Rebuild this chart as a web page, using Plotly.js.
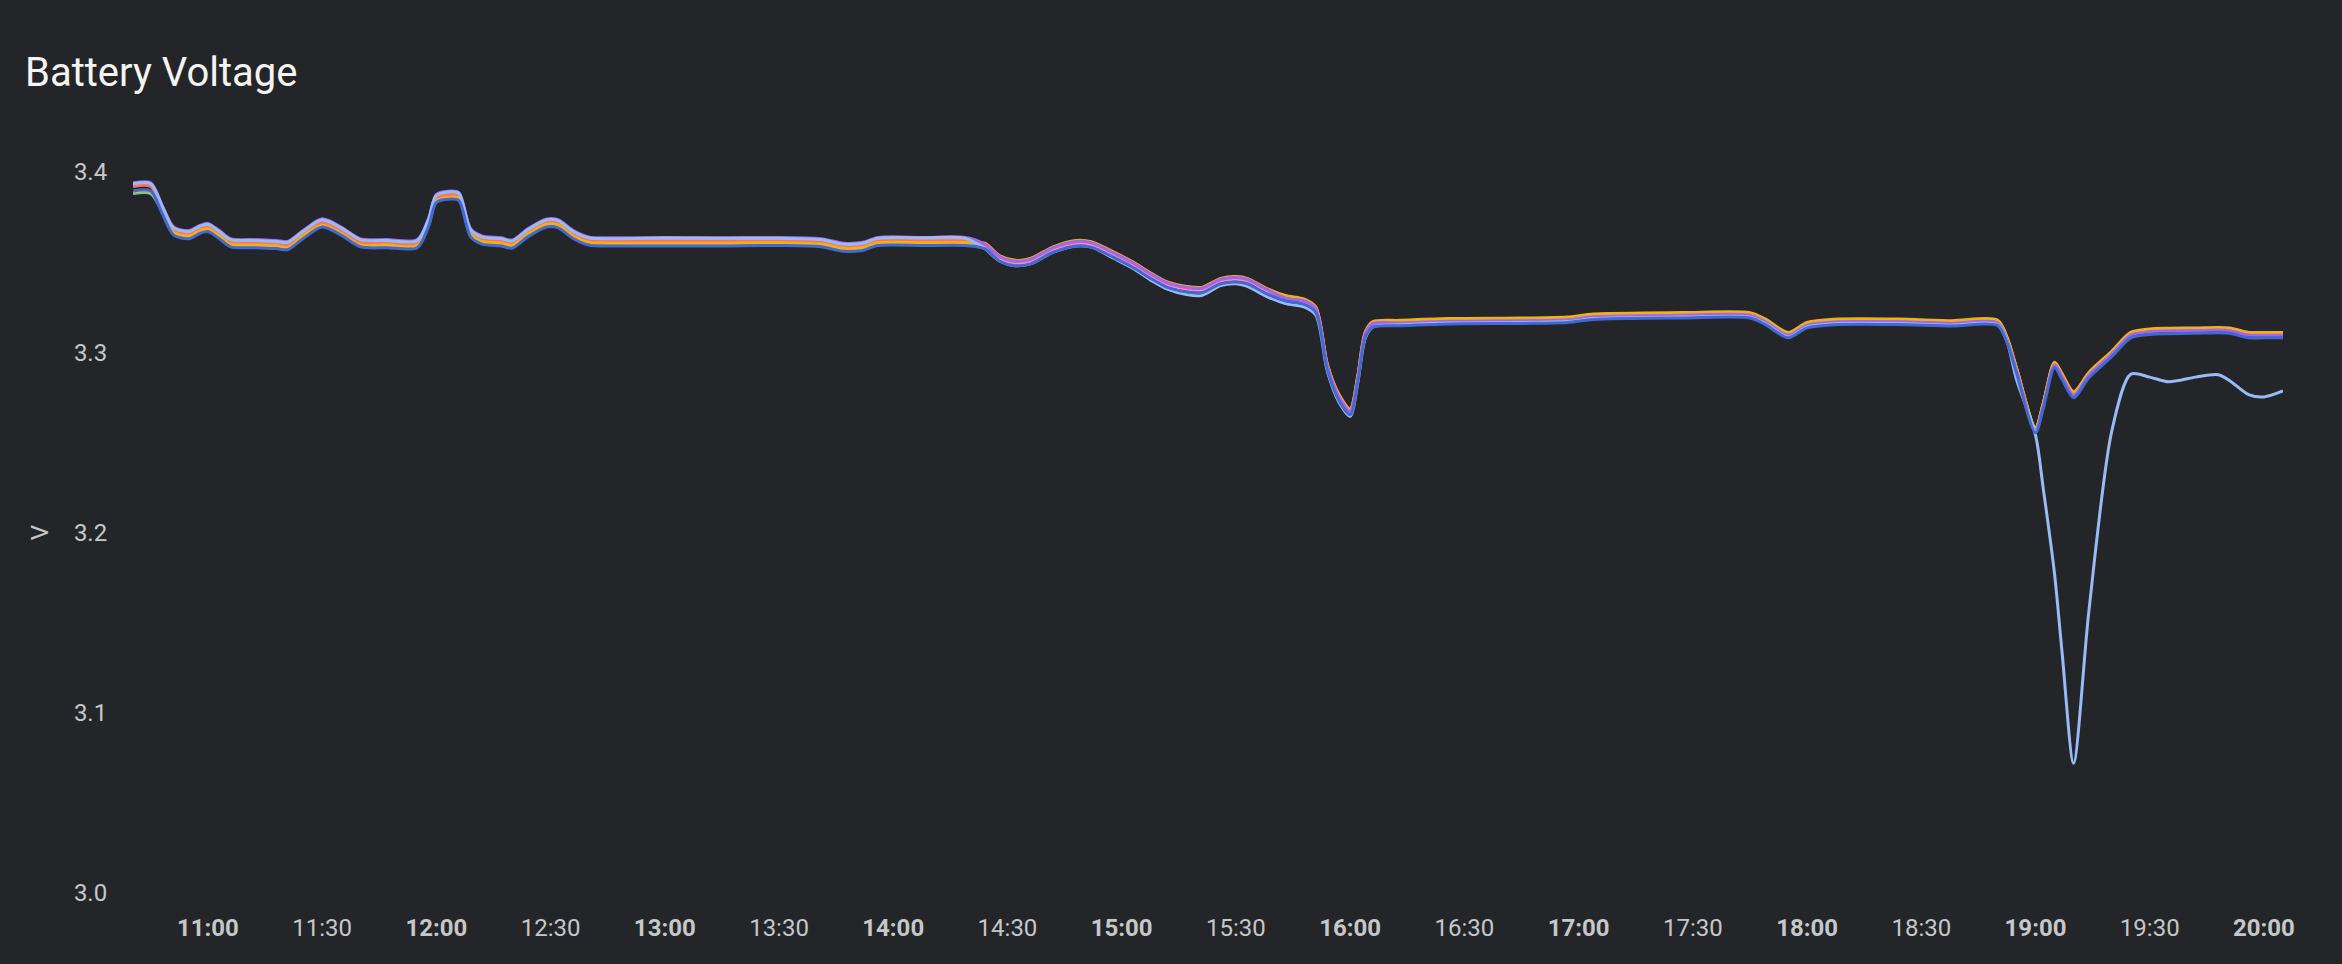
<!DOCTYPE html>
<html>
<head>
<meta charset="utf-8">
<script src="https://cdn.plot.ly/plotly-3.0.1.min.js"></script>
<style>
  html, body { margin: 0; padding: 0; background: #242528; }
  #chart { width: 2342px; height: 964px; }
</style>
</head>
<body>
<div id="chart"></div>
<script>
// Battery cell voltages, one sample list per cell
const day = '2024-05-01 ';

const times = [
  '10:40:20', '10:45', '10:48', '10:51', '10:55', '10:58', '11:00', '11:03', '11:06', '11:12',
  '11:18', '11:21', '11:25', '11:30', '11:35', '11:40', '11:47', '11:55', '11:58', '12:00',
  '12:04', '12:06', '12:09', '12:12', '12:17', '12:20', '12:24', '12:29', '12:32', '12:36',
  '12:40', '12:48', '13:00', '13:15', '13:30', '13:41', '13:47', '13:52', '13:56', '14:08',
  '14:19',
  '14:24', '14:28', '14:32', '14:36', '14:42', '14:48', '14:52', '14:58', '15:03', '15:08',
  '15:12', '15:17', '15:21', '15:26', '15:30', '15:33', '15:38', '15:43', '15:48', '15:51',
  '15:54', '15:57', '16:00', '16:02', '16:04', '16:06',
  '16:13', '16:26', '16:45', '16:57', '17:04', '17:27', '17:45', '17:49', '17:55', '18:00',
  '18:07', '18:24', '18:38', '18:50', '18:52:30', '18:55', '19:00', '19:02', '19:05', '19:07',
  '19:10', '19:14', '19:20', '19:25', '19:30', '19:35', '19:42', '19:48', '19:51', '19:56',
  '20:00', '20:05'
];

const cellTeal = [
  3.3880, 3.3880, 3.3780, 3.3660, 3.3640, 3.3670, 3.3680, 3.3640, 3.3595, 3.3590,
  3.3585, 3.3580, 3.3640, 3.3705, 3.3660, 3.3595, 3.3590, 3.3590, 3.3710, 3.3840,
  3.3860, 3.3850, 3.3650, 3.3610, 3.3600, 3.3588, 3.3650, 3.3705, 3.3700, 3.3640,
  3.3605, 3.3600, 3.3600, 3.3600, 3.3602, 3.3595, 3.3570, 3.3575, 3.3602, 3.3602,
  3.3602,
  3.3595, 3.3525, 3.3500, 3.3510, 3.3575, 3.3610, 3.3603, 3.3545, 3.3490, 3.3425,
  3.3380, 3.3355, 3.3350, 3.3400, 3.3410, 3.3400, 3.3345, 3.3305, 3.3285, 3.3240,
  3.2925, 3.2755, 3.2673, 3.2855, 3.3105, 3.3165,
  3.3172, 3.3182, 3.3185, 3.3190, 3.3207, 3.3215, 3.3215, 3.3180, 3.3105, 3.3160,
  3.3178, 3.3179, 3.3170, 3.3174, 3.3080, 3.2910, 3.2578, 3.2710, 3.2940, 3.2874,
  3.2772, 3.2883, 3.3000, 3.3105, 3.3124, 3.3128, 3.3130, 3.3133, 3.3130, 3.3105,
  3.3105, 3.3105
];

const cellPink = [
  3.3930, 3.3930, 3.3805, 3.3685, 3.3665, 3.3695, 3.3705, 3.3665, 3.3620, 3.3615,
  3.3610, 3.3605, 3.3665, 3.3730, 3.3685, 3.3620, 3.3615, 3.3615, 3.3735, 3.3865,
  3.3885, 3.3875, 3.3675, 3.3635, 3.3625, 3.3613, 3.3675, 3.3730, 3.3725, 3.3665,
  3.3630, 3.3625, 3.3625, 3.3625, 3.3627, 3.3620, 3.3595, 3.3600, 3.3627, 3.3627,
  3.3627,
  3.3590, 3.3520, 3.3495, 3.3505, 3.3570, 3.3605, 3.3598, 3.3540, 3.3485, 3.3420,
  3.3375, 3.3350, 3.3345, 3.3395, 3.3405, 3.3395, 3.3340, 3.3300, 3.3280, 3.3235,
  3.2920, 3.2750, 3.2668, 3.2850, 3.3100, 3.3155,
  3.3167, 3.3177, 3.3180, 3.3185, 3.3202, 3.3210, 3.3210, 3.3175, 3.3100, 3.3155,
  3.3173, 3.3174, 3.3165, 3.3169, 3.3075, 3.2905, 3.2573, 3.2705, 3.2935, 3.2869,
  3.2767, 3.2878, 3.2995, 3.3100, 3.3119, 3.3123, 3.3125, 3.3128, 3.3125, 3.3100,
  3.3100, 3.3100
];

const cellRed = [
  3.3920, 3.3920, 3.3795, 3.3675, 3.3655, 3.3685, 3.3695, 3.3655, 3.3610, 3.3605,
  3.3600, 3.3595, 3.3655, 3.3720, 3.3675, 3.3610, 3.3605, 3.3605, 3.3725, 3.3855,
  3.3875, 3.3865, 3.3665, 3.3625, 3.3615, 3.3603, 3.3665, 3.3720, 3.3715, 3.3655,
  3.3620, 3.3615, 3.3615, 3.3615, 3.3617, 3.3610, 3.3585, 3.3590, 3.3617, 3.3617,
  3.3617,
  3.3600, 3.3530, 3.3505, 3.3515, 3.3580, 3.3615, 3.3608, 3.3550, 3.3495, 3.3430,
  3.3385, 3.3360, 3.3355, 3.3405, 3.3415, 3.3405, 3.3350, 3.3310, 3.3290, 3.3245,
  3.2930, 3.2770, 3.2688, 3.2870, 3.3110, 3.3150,
  3.3172, 3.3182, 3.3185, 3.3190, 3.3210, 3.3215, 3.3215, 3.3180, 3.3090, 3.3160,
  3.3178, 3.3179, 3.3165, 3.3174, 3.3080, 3.2910, 3.2578, 3.2710, 3.2940, 3.2880,
  3.2782, 3.2883, 3.3000, 3.3105, 3.3124, 3.3128, 3.3130, 3.3133, 3.3130, 3.3105,
  3.3105, 3.3105
];

const cellYellow = [
  3.3890, 3.3890, 3.3785, 3.3665, 3.3645, 3.3675, 3.3685, 3.3645, 3.3600, 3.3595,
  3.3590, 3.3580, 3.3645, 3.3705, 3.3660, 3.3595, 3.3595, 3.3590, 3.3710, 3.3840,
  3.3860, 3.3855, 3.3655, 3.3615, 3.3605, 3.3593, 3.3655, 3.3710, 3.3705, 3.3645,
  3.3610, 3.3605, 3.3605, 3.3605, 3.3607, 3.3600, 3.3575, 3.3580, 3.3607, 3.3607,
  3.3607,
  3.3605, 3.3535, 3.3510, 3.3520, 3.3585, 3.3620, 3.3613, 3.3555, 3.3500, 3.3435,
  3.3390, 3.3365, 3.3360, 3.3410, 3.3420, 3.3410, 3.3355, 3.3315, 3.3295, 3.3250,
  3.2935, 3.2765, 3.2683, 3.2865, 3.3115, 3.3170,
  3.3177, 3.3187, 3.3190, 3.3195, 3.3212, 3.3220, 3.3220, 3.3185, 3.3110, 3.3165,
  3.3183, 3.3184, 3.3175, 3.3179, 3.3085, 3.2915, 3.2583, 3.2715, 3.2945, 3.2879,
  3.2777, 3.2888, 3.3005, 3.3110, 3.3129, 3.3133, 3.3135, 3.3138, 3.3135, 3.3110,
  3.3110, 3.3110
];

const cellPurple = [
  3.3940, 3.3940, 3.3815, 3.3695, 3.3675, 3.3705, 3.3715, 3.3675, 3.3630, 3.3625,
  3.3620, 3.3615, 3.3675, 3.3740, 3.3695, 3.3630, 3.3625, 3.3625, 3.3745, 3.3875,
  3.3895, 3.3885, 3.3685, 3.3645, 3.3635, 3.3623, 3.3685, 3.3740, 3.3735, 3.3675,
  3.3640, 3.3635, 3.3635, 3.3635, 3.3637, 3.3630, 3.3605, 3.3610, 3.3637, 3.3637,
  3.3637,
  3.3600, 3.3530, 3.3505, 3.3515, 3.3580, 3.3615, 3.3608, 3.3550, 3.3495, 3.3430,
  3.3385, 3.3360, 3.3355, 3.3405, 3.3415, 3.3405, 3.3350, 3.3300, 3.3285, 3.3240,
  3.2925, 3.2755, 3.2673, 3.2855, 3.3105, 3.3160,
  3.3162, 3.3172, 3.3175, 3.3180, 3.3197, 3.3205, 3.3205, 3.3170, 3.3095, 3.3150,
  3.3168, 3.3169, 3.3160, 3.3164, 3.3070, 3.2900, 3.2568, 3.2700, 3.2930, 3.2864,
  3.2762, 3.2873, 3.2990, 3.3095, 3.3114, 3.3118, 3.3120, 3.3123, 3.3120, 3.3095,
  3.3095, 3.3095
];

const cellLightBlue = [
  3.3935, 3.3935, 3.3810, 3.3690, 3.3670, 3.3700, 3.3710, 3.3670, 3.3625, 3.3620,
  3.3615, 3.3610, 3.3670, 3.3735, 3.3690, 3.3625, 3.3620, 3.3620, 3.3740, 3.3870,
  3.3890, 3.3880, 3.3680, 3.3640, 3.3630, 3.3618, 3.3680, 3.3735, 3.3730, 3.3670,
  3.3635, 3.3630, 3.3635, 3.3632, 3.3632, 3.3625, 3.3600, 3.3605, 3.3632, 3.3635,
  3.3632,
  3.3575, 3.3505, 3.3480, 3.3490, 3.3555, 3.3590, 3.3583, 3.3520, 3.3465, 3.3395,
  3.3350, 3.3320, 3.3315, 3.3370, 3.3380, 3.3365, 3.3310, 3.3270, 3.3250, 3.3205,
  3.2895, 3.2725, 3.2645, 3.2830, 3.3080, 3.3140,
  3.3152, 3.3162, 3.3165, 3.3170, 3.3187, 3.3195, 3.3195, 3.3160, 3.3085, 3.3140,
  3.3158, 3.3159, 3.3150, 3.3154, 3.3060, 3.2850, 3.2540, 3.2250, 3.1770, 3.1330,
  3.0720, 3.1560, 3.2560, 3.2878, 3.2862, 3.2836, 3.2862, 3.2875, 3.2842, 3.2765,
  3.2752, 3.2785
];

const cellBlue = [
  3.3895, 3.3895, 3.3770, 3.3650, 3.3630, 3.3660, 3.3670, 3.3630, 3.3585, 3.3580,
  3.3575, 3.3570, 3.3630, 3.3695, 3.3650, 3.3585, 3.3580, 3.3580, 3.3700, 3.3830,
  3.3850, 3.3840, 3.3640, 3.3600, 3.3590, 3.3578, 3.3640, 3.3695, 3.3690, 3.3630,
  3.3595, 3.3590, 3.3590, 3.3590, 3.3592, 3.3585, 3.3560, 3.3565, 3.3592, 3.3592,
  3.3592,
  3.3575, 3.3505, 3.3480, 3.3490, 3.3555, 3.3590, 3.3583, 3.3525, 3.3470, 3.3405,
  3.3360, 3.3335, 3.3330, 3.3380, 3.3390, 3.3380, 3.3325, 3.3285, 3.3265, 3.3220,
  3.2905, 3.2735, 3.2653, 3.2835, 3.3085, 3.3140,
  3.3147, 3.3157, 3.3160, 3.3165, 3.3182, 3.3190, 3.3190, 3.3155, 3.3080, 3.3135,
  3.3153, 3.3154, 3.3145, 3.3149, 3.3055, 3.2885, 3.2553, 3.2685, 3.2915, 3.2849,
  3.2747, 3.2858, 3.2975, 3.3080, 3.3099, 3.3103, 3.3105, 3.3108, 3.3105, 3.3080,
  3.3080, 3.3080
];

const cellNames = ['Cell 4', 'Cell 6', 'Cell 3', 'Cell 2', 'Cell 7', 'Cell 8', 'Cell 1'];
const cellColors = ['#6cc5b0', '#ff8ab7', '#ff725c', '#efb118', '#a463f2', '#97bbf5', '#4269d0'];
const cellValues = [cellTeal, cellPink, cellRed, cellYellow, cellPurple, cellLightBlue, cellBlue];

const xTickTimes = ['11:00', '11:30', '12:00', '12:30', '13:00', '13:30', '14:00', '14:30', '15:00',
  '15:30', '16:00', '16:30', '17:00', '17:30', '18:00', '18:30', '19:00', '19:30', '20:00'];
const yTicks = [3.0, 3.1, 3.2, 3.3, 3.4];

const x = times.map(t => day + t);

const data = cellValues.map((vals, i) => ({
  type: 'scatter',
  mode: 'lines',
  name: cellNames[i],
  x: x,
  y: vals,
  line: { color: cellColors[i], width: 3, shape: 'spline', smoothing: 0.8 },
  hoverinfo: 'x+y+name'
}));

const layout = {
  width: 2342,
  height: 964,
  paper_bgcolor: '#242528',
  plot_bgcolor: '#242528',
  showlegend: false,
  font: { family: 'Roboto, sans-serif', color: '#c6c7c9', size: 24 },
  margin: { l: 133, r: 59, t: 172, b: 71 },
  title: {
    text: 'Battery Voltage',
    font: { family: 'Roboto, sans-serif', size: 40, color: '#f4f4f4' },
    xref: 'container', x: 25 / 2342, xanchor: 'left',
    yref: 'container', y: 1 - 72 / 964, yanchor: 'middle'
  },
  xaxis: {
    type: 'date',
    range: [day + '10:40:20', day + '20:05'],
    tickmode: 'array',
    tickvals: xTickTimes.map(t => day + t),
    ticktext: xTickTimes.map(t => t.endsWith(':00') ? '<b>' + t + '</b>' : t),
    ticks: 'outside',
    ticklen: 13,
    tickcolor: 'rgba(0,0,0,0)',
    showgrid: false,
    zeroline: false,
    showline: false,
    tickfont: { size: 24, color: '#c6c7c9' }
  },
  yaxis: {
    range: [3.0, 3.4],
    tickmode: 'array',
    tickvals: yTicks,
    ticktext: yTicks.map(v => v.toFixed(1)),
    ticks: 'outside',
    ticklen: 20,
    tickcolor: 'rgba(0,0,0,0)',
    showgrid: false,
    zeroline: false,
    showline: false,
    tickfont: { size: 24, color: '#c6c7c9' },
    title: { text: 'V', font: { size: 24, color: '#c6c7c9' }, standoff: 18 }
  }
};

Plotly.newPlot('chart', data, layout, { displayModeBar: false, staticPlot: true });
</script>
</body>
</html>
